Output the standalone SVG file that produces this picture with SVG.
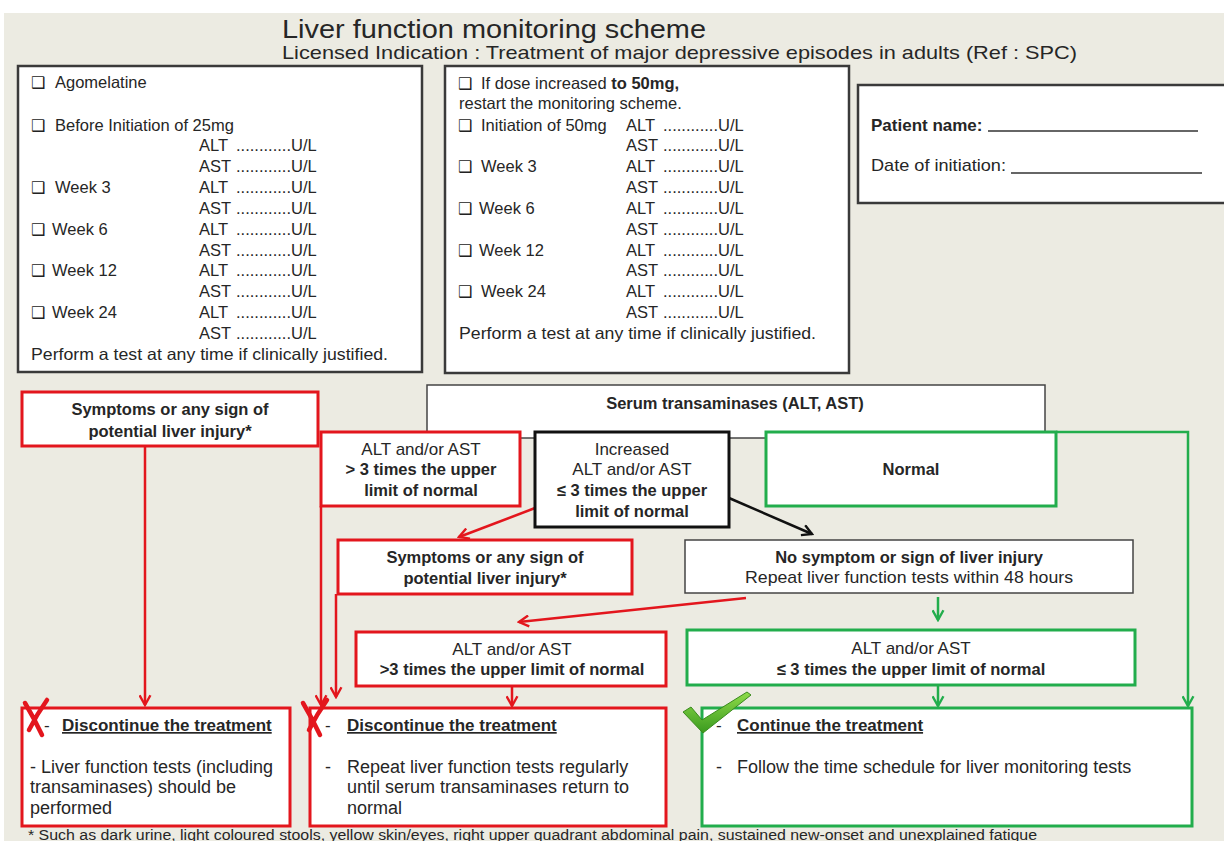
<svg xmlns="http://www.w3.org/2000/svg" width="1224" height="841" viewBox="0 0 1224 841">
<defs>
<style>
.t{font-family:"Liberation Sans",Arial,sans-serif;font-size:16.5px;fill:#262626}
.f{font-size:17px}
.fb{font-size:16.5px}
.bt{font-size:18px}
.b{font-weight:bold}
.c{text-anchor:middle}
.ck{font-family:"DejaVu Sans",sans-serif;font-size:16px;font-weight:bold;fill:#222}
.bx{fill:#fff;stroke:#3a3a3a;stroke-width:2.5}
.red{fill:#fff;stroke:#e3161d;stroke-width:3}
.grn{fill:#fff;stroke:#22ad4c;stroke-width:3}
.blk{fill:#fff;stroke:#111;stroke-width:3}
.thin{fill:#fff;stroke:#444;stroke-width:1.5}
.lr{fill:none;stroke:#e3161d;stroke-width:2.5}
.lg{fill:none;stroke:#22ad4c;stroke-width:2.5}
.lk{fill:none;stroke:#111;stroke-width:2.5}
.x{fill:none;stroke:#e3161d;stroke-width:4.5;stroke-linecap:round}
</style>
<marker id="ar" viewBox="0 0 12 12" refX="10" refY="6" markerWidth="13" markerHeight="13" orient="auto" markerUnits="userSpaceOnUse"><path d="M1,1 L10,6 L1,11" fill="none" stroke="#e3161d" stroke-width="2.2"/></marker>
<marker id="ag" viewBox="0 0 12 12" refX="10" refY="6" markerWidth="13" markerHeight="13" orient="auto" markerUnits="userSpaceOnUse"><path d="M1,1 L10,6 L1,11" fill="none" stroke="#22ad4c" stroke-width="2.2"/></marker>
<marker id="ak" viewBox="0 0 12 12" refX="10" refY="6" markerWidth="13" markerHeight="13" orient="auto" markerUnits="userSpaceOnUse"><path d="M1,1 L10,6 L1,11" fill="none" stroke="#111" stroke-width="2.2"/></marker>
<linearGradient id="gc" x1="0" y1="0" x2="0" y2="1"><stop offset="0" stop-color="#8fdc4a"/><stop offset="1" stop-color="#3a9a1e"/></linearGradient>
</defs>
<rect x="0" y="0" width="1224" height="841" fill="#ffffff"/>
<rect x="4" y="13" width="1220" height="828" fill="#ecebe2"/>

<g id="title">
<text class="t" x="282" y="38" style="font-size:26px" textLength="424" lengthAdjust="spacingAndGlyphs">Liver function monitoring scheme</text>
<text class="t" x="282" y="59" style="font-size:19px" textLength="795" lengthAdjust="spacingAndGlyphs">Licensed Indication : Treatment of major depressive episodes in adults (Ref : SPC)</text>
</g>

<g id="schedule25">
<rect class="bx" x="18" y="66" width="404" height="306"/>
<text class="ck" x="31" y="88">❑</text><text class="t" x="55" y="88">Agomelatine</text>
<text class="ck" x="31" y="131">❑</text><text class="t" x="55" y="131">Before Initiation of 25mg</text>
<text class="t" x="199" y="151">ALT</text><text class="t" x="236" y="151">............U/L</text>
<text class="t" x="199" y="172">AST</text><text class="t" x="236" y="172">............U/L</text>
<text class="ck" x="31" y="193">❑</text><text class="t" x="55" y="193">Week 3</text>
<text class="t" x="199" y="193">ALT</text><text class="t" x="236" y="193">............U/L</text>
<text class="t" x="199" y="214">AST</text><text class="t" x="236" y="214">............U/L</text>
<text class="ck" x="31" y="235">❑</text><text class="t" x="52" y="235">Week 6</text>
<text class="t" x="199" y="235">ALT</text><text class="t" x="236" y="235">............U/L</text>
<text class="t" x="199" y="256">AST</text><text class="t" x="236" y="256">............U/L</text>
<text class="ck" x="31" y="276">❑</text><text class="t" x="52" y="276">Week 12</text>
<text class="t" x="199" y="276">ALT</text><text class="t" x="236" y="276">............U/L</text>
<text class="t" x="199" y="297">AST</text><text class="t" x="236" y="297">............U/L</text>
<text class="ck" x="31" y="318">❑</text><text class="t" x="52" y="318">Week 24</text>
<text class="t" x="199" y="318">ALT</text><text class="t" x="236" y="318">............U/L</text>
<text class="t" x="199" y="339">AST</text><text class="t" x="236" y="339">............U/L</text>
<text class="t" x="31" y="360" textLength="357" lengthAdjust="spacingAndGlyphs">Perform a test at any time if clinically justified.</text>
</g>

<g id="schedule50">
<rect class="bx" x="445" y="66" width="404" height="307"/>
<text class="ck" x="458" y="89">❑</text><text class="t" x="481" y="89">If dose increased <tspan class="b">to 50mg,</tspan></text>
<text class="t" x="459" y="109">restart the monitoring scheme.</text>
<text class="ck" x="458" y="131">❑</text><text class="t" x="481" y="131">Initiation of 50mg</text>
<text class="t" x="626" y="131">ALT</text><text class="t" x="663" y="131">............U/L</text>
<text class="t" x="626" y="151">AST</text><text class="t" x="663" y="151">............U/L</text>
<text class="ck" x="458" y="172">❑</text><text class="t" x="481" y="172">Week 3</text>
<text class="t" x="626" y="172">ALT</text><text class="t" x="663" y="172">............U/L</text>
<text class="t" x="626" y="193">AST</text><text class="t" x="663" y="193">............U/L</text>
<text class="ck" x="458" y="214">❑</text><text class="t" x="479" y="214">Week 6</text>
<text class="t" x="626" y="214">ALT</text><text class="t" x="663" y="214">............U/L</text>
<text class="t" x="626" y="235">AST</text><text class="t" x="663" y="235">............U/L</text>
<text class="ck" x="458" y="256">❑</text><text class="t" x="479" y="256">Week 12</text>
<text class="t" x="626" y="256">ALT</text><text class="t" x="663" y="256">............U/L</text>
<text class="t" x="626" y="276">AST</text><text class="t" x="663" y="276">............U/L</text>
<text class="ck" x="458" y="297">❑</text><text class="t" x="481" y="297">Week 24</text>
<text class="t" x="626" y="297">ALT</text><text class="t" x="663" y="297">............U/L</text>
<text class="t" x="626" y="318">AST</text><text class="t" x="663" y="318">............U/L</text>
<text class="t" x="459" y="339" textLength="357" lengthAdjust="spacingAndGlyphs">Perform a test at any time if clinically justified.</text>
</g>

<g id="patient">
<rect class="bx" x="858" y="85" width="370" height="118"/>
<text class="t b f" x="871" y="131">Patient name:</text>
<line x1="988" y1="131" x2="1198" y2="131" stroke="#333" stroke-width="1.5"/>
<text class="t f" x="871" y="171" textLength="135" lengthAdjust="spacingAndGlyphs">Date of initiation:</text>
<line x1="1011" y1="173" x2="1202" y2="173" stroke="#333" stroke-width="1.5"/>
</g>

<g id="connectors">
<line class="lr" x1="145" y1="446" x2="145" y2="705" marker-end="url(#ar)"/>
<line class="lr" x1="321" y1="506" x2="321" y2="705" marker-end="url(#ar)"/>
<line class="lr" x1="336" y1="594" x2="336" y2="697" marker-end="url(#ar)"/>
<line class="lr" x1="535" y1="508" x2="459" y2="537" marker-end="url(#ar)"/>
<line class="lk" x1="729" y1="498" x2="812" y2="534" marker-end="url(#ak)"/>
<line class="lr" x1="746" y1="598" x2="519" y2="622" marker-end="url(#ar)"/>
<line class="lg" x1="938" y1="597" x2="938" y2="620" marker-end="url(#ag)"/>
<line class="lr" x1="512" y1="686" x2="512" y2="706" marker-end="url(#ar)"/>
<line class="lg" x1="938" y1="685" x2="938" y2="706" marker-end="url(#ag)"/>
<polyline class="lg" points="1056,432 1188,432 1188,706" marker-end="url(#ag)"/>
</g>

<g id="serum">
<rect class="thin" x="427" y="385" width="618" height="53"/>
<text class="t b fb c" x="735" y="409">Serum transaminases (ALT, AST)</text>
</g>

<g id="symptoms1">
<rect class="red" x="22" y="392" width="296" height="54"/>
<text class="t b fb c" x="170" y="415">Symptoms or any sign of</text>
<text class="t b fb c" x="170" y="437">potential liver injury*</text>
</g>

<g id="high1">
<rect class="red" x="321" y="432" width="199" height="74"/>
<text class="t f c" x="421" y="455">ALT and/or AST</text>
<text class="t b fb c" x="421" y="475">&gt; 3 times the upper</text>
<text class="t b fb c" x="421" y="496">limit of normal</text>
</g>

<g id="increased">
<rect class="blk" x="535" y="432" width="194" height="95"/>
<text class="t f c" x="632" y="455">Increased</text>
<text class="t f c" x="632" y="475">ALT and/or AST</text>
<text class="t b fb c" x="632" y="496">≤ 3 times the upper</text>
<text class="t b fb c" x="632" y="517">limit of normal</text>
</g>

<g id="normal">
<rect class="grn" x="766" y="432" width="290" height="74"/>
<text class="t b fb c" x="911" y="475">Normal</text>
</g>

<g id="symptoms2">
<rect class="red" x="338" y="540" width="294" height="54"/>
<text class="t b fb c" x="485" y="563">Symptoms or any sign of</text>
<text class="t b fb c" x="485" y="584">potential liver injury*</text>
</g>

<g id="nosymptom">
<rect class="thin" x="685" y="540" width="448" height="53"/>
<text class="t b fb c" x="909" y="563">No symptom or sign of liver injury</text>
<text class="t f c" x="909" y="583" textLength="328" lengthAdjust="spacingAndGlyphs">Repeat liver function tests within 48 hours</text>
</g>

<g id="high2">
<rect class="red" x="356" y="632" width="310" height="54"/>
<text class="t f c" x="512" y="655">ALT and/or AST</text>
<text class="t b fb c" x="512" y="675">&gt;3 times the upper limit of normal</text>
</g>

<g id="low2">
<rect class="grn" x="687" y="630" width="448" height="55"/>
<text class="t f c" x="911" y="654">ALT and/or AST</text>
<text class="t b fb c" x="911" y="675">≤ 3 times the upper limit of normal</text>
</g>

<g id="discontinue1">
<rect class="red" x="22" y="708" width="268" height="118"/>
<text class="t f" x="44" y="731">-</text>
<text class="t b f" x="62" y="731" text-decoration="underline">Discontinue the treatment</text>
<text class="t bt" x="30" y="773">- Liver function tests (including</text>
<text class="t bt" x="30" y="793">transaminases) should be</text>
<text class="t bt" x="30" y="814">performed</text>
<path class="x" d="M25,703 Q34,718 42,735 M47,700 Q37,714 29,730"/>
</g>

<g id="discontinue2">
<rect class="red" x="310" y="708" width="356" height="118"/>
<text class="t f" x="325" y="731">-</text>
<text class="t b f" x="347" y="731" text-decoration="underline">Discontinue the treatment</text>
<text class="t bt" x="325" y="773">-</text>
<text class="t bt" x="347" y="773">Repeat liver function tests regularly</text>
<text class="t bt" x="347" y="793">until serum transaminases return to</text>
<text class="t bt" x="347" y="814">normal</text>
<path class="x" d="M303,703 Q312,718 320,735 M327,700 Q317,714 309,730"/>
</g>

<g id="continue">
<rect class="grn" x="702" y="708" width="490" height="118"/>
<text class="t f" x="716" y="731">-</text>
<text class="t b f" x="737" y="731" text-decoration="underline">Continue the treatment</text>
<text class="t bt" x="716" y="773">-</text>
<text class="t bt" x="737" y="773">Follow the time schedule for liver monitoring tests</text>
<polygon points="683,712 691,707 702,720 747,692 751,695 703,733" fill="url(#gc)" stroke="#3a8a1e" stroke-width="1"/>
</g>

<g id="footnote">
<text class="t" x="28" y="840" style="font-size:14px" textLength="1009" lengthAdjust="spacingAndGlyphs">* Such as dark urine, light coloured stools, yellow skin/eyes, right upper quadrant abdominal pain, sustained new-onset and unexplained fatigue</text>
</g>
</svg>
